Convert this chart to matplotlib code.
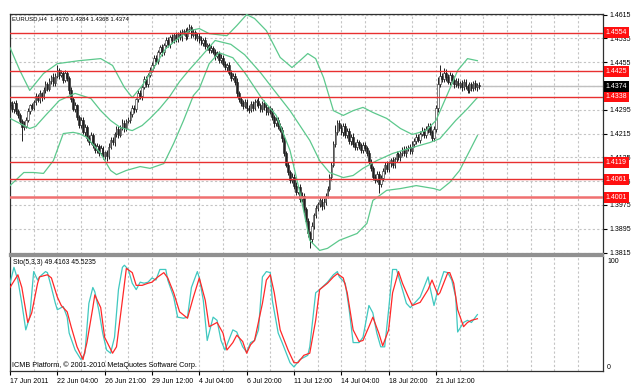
import matplotlib
matplotlib.use('Agg')
import matplotlib.pyplot as plt
import matplotlib.transforms as mtransforms
import numpy as np

# ---------------- data (EURUSD H4) ----------------
first_open = 1.4320
closes = [
    1.4312, 1.4296, 1.4318, 1.4290, 1.4276, 1.4258, 1.4236, 1.4242, 1.4262, 1.4290, 1.4310, 1.4302,
    1.4322, 1.4340, 1.4328, 1.4350, 1.4338, 1.4362, 1.4380, 1.4366, 1.4392, 1.4405, 1.4384, 1.4410,
    1.4428, 1.4412, 1.4420, 1.4396, 1.4418, 1.4402, 1.4360, 1.4330, 1.4298, 1.4310, 1.4270, 1.4245,
    1.4262, 1.4220, 1.4236, 1.4200, 1.4188, 1.4210, 1.4176, 1.4160, 1.4172, 1.4150, 1.4166, 1.4140,
    1.4152, 1.4138, 1.4170, 1.4195, 1.4186, 1.4214, 1.4230, 1.4210, 1.4236, 1.4250, 1.4232, 1.4258,
    1.4262, 1.4280, 1.4302, 1.4296, 1.4330, 1.4352, 1.4340, 1.4372, 1.4398, 1.4380, 1.4412, 1.4430,
    1.4446, 1.4470, 1.4458, 1.4490, 1.4505, 1.4488, 1.4512, 1.4530, 1.4515, 1.4540, 1.4528, 1.4546,
    1.4532, 1.4550, 1.4538, 1.4556, 1.4560, 1.4542, 1.4565, 1.4572, 1.4548, 1.4555, 1.4536, 1.4544,
    1.4530, 1.4520, 1.4528, 1.4508, 1.4512, 1.4495, 1.4502, 1.4490, 1.4476, 1.4485, 1.4462, 1.4470,
    1.4450, 1.4438, 1.4445, 1.4420, 1.4402, 1.4410, 1.4388, 1.4350, 1.4330, 1.4318, 1.4308, 1.4322,
    1.4300, 1.4295, 1.4315, 1.4302, 1.4320, 1.4325, 1.4310, 1.4298, 1.4318, 1.4305, 1.4286, 1.4300,
    1.4290, 1.4270, 1.4250, 1.4262, 1.4240, 1.4228, 1.4200, 1.4150, 1.4110, 1.4085, 1.4060, 1.4070,
    1.4040, 1.4020, 1.4035, 1.3995, 1.4005, 1.3960, 1.3920, 1.3880, 1.3860, 1.3905, 1.3940, 1.3965,
    1.3978, 1.3990, 1.3970, 1.3985, 1.4005, 1.4030, 1.4070, 1.4110, 1.4180, 1.4220, 1.4250, 1.4235,
    1.4220, 1.4240, 1.4210, 1.4225, 1.4190, 1.4205, 1.4180, 1.4170, 1.4188, 1.4175, 1.4160, 1.4178,
    1.4165, 1.4150, 1.4120, 1.4100, 1.4070, 1.4060, 1.4080, 1.4045, 1.4065, 1.4090, 1.4110, 1.4095,
    1.4115, 1.4125, 1.4110, 1.4130, 1.4145, 1.4135, 1.4150, 1.4160, 1.4148, 1.4165, 1.4170, 1.4155,
    1.4180, 1.4190, 1.4205, 1.4195, 1.4215, 1.4225, 1.4210, 1.4230, 1.4240, 1.4220, 1.4200, 1.4230,
    1.4300, 1.4380, 1.4410, 1.4398, 1.4420, 1.4405, 1.4390, 1.4412, 1.4395, 1.4380, 1.4392, 1.4378,
    1.4385, 1.4370, 1.4388, 1.4375, 1.4362, 1.4380, 1.4368, 1.4385, 1.4370, 1.4378, 1.4374,
]
# upper / lower shadows in pips
wick_up = [
    8, 12, 6, 10, 7, 9, 5, 14, 8, 10, 6, 9,
    7, 10, 8, 12, 6, 9, 11, 7, 10, 8, 12, 9,
    17, 8, 10, 6, 12, 9, 7, 10, 8, 12, 6, 9,
    10, 8, 12, 7, 9, 11, 6, 8, 10, 7, 9, 8,
    6, 9, 12, 8, 10, 7, 11, 9, 8, 13, 10, 7,
    9, 12, 8, 10, 6, 11, 9, 8, 12, 10, 7, 9,
    11, 8, 10, 7, 9, 12, 8, 10, 9, 7, 11, 8,
    10, 8, 12, 9, 7, 11, 9, 13, 8, 10, 7, 9,
    8, 12, 7, 10, 9, 6, 11, 8, 10, 7, 9, 12,
    8, 10, 7, 12, 9, 8, 10, 14, 9, 7, 11, 8,
    10, 12, 9, 8, 11, 7, 12, 9, 8, 10, 13, 9,
    8, 11, 9, 7, 10, 12, 8, 9, 6, 10, 8, 11,
    9, 12, 8, 10, 14, 9, 7, 10, 8, 12, 9, 11,
    8, 10, 7, 12, 9, 8, 10, 11, 9, 25, 12, 10,
    12, 9, 11, 8, 10, 9, 12, 8, 10, 7, 9, 8,
    10, 8, 9, 11, 7, 10, 8, 9, 11, 8, 10, 12,
    9, 8, 10, 7, 11, 9, 8, 10, 12, 9, 8, 10,
    9, 11, 8, 10, 9, 12, 8, 10, 9, 11, 8, 10,
    12, 25, 35, 10, 14, 12, 9, 11, 8, 12, 10, 9,
    8, 10, 9, 11, 8, 10, 9, 8, 10, 7, 10,
]
wick_dn = [
    9, 7, 11, 8, 10, 12, 46, 9, 8, 7, 10, 8,
    8, 10, 7, 9, 12, 8, 10, 7, 9, 11, 8, 10,
    9, 12, 8, 10, 7, 9, 12, 10, 8, 11, 9, 12,
    10, 8, 12, 9, 11, 8, 10, 12, 9, 11, 8, 10,
    12, 14, 9, 8, 10, 12, 9, 11, 8, 10, 12, 9,
    8, 10, 9, 12, 8, 10, 9, 11, 8, 10, 9, 8,
    9, 11, 8, 10, 9, 12, 8, 10, 9, 11, 8, 10,
    9, 8, 10, 12, 9, 11, 8, 10, 12, 9, 8, 10,
    10, 8, 12, 9, 11, 8, 10, 9, 12, 8, 10, 9,
    8, 10, 12, 9, 11, 8, 10, 12, 9, 11, 10, 8,
    9, 11, 8, 10, 9, 12, 8, 10, 9, 11, 8, 10,
    10, 9, 12, 8, 11, 9, 12, 10, 9, 11, 10, 12,
    10, 12, 9, 11, 10, 12, 10, 14, 30, 12, 10, 9,
    11, 10, 12, 9, 10, 8, 9, 10, 8, 9, 10, 12,
    10, 12, 9, 11, 10, 12, 9, 11, 10, 12, 9, 11,
    10, 12, 9, 11, 10, 12, 9, 30, 10, 9, 11, 10,
    9, 11, 10, 12, 9, 10, 11, 9, 10, 12, 9, 10,
    10, 9, 11, 10, 12, 9, 11, 10, 12, 9, 11, 10,
    10, 12, 9, 11, 10, 12, 9, 11, 10, 12, 9, 11,
    10, 12, 9, 11, 10, 12, 9, 11, 10, 12, 10,
]

# Bollinger bands (sampled along the bars)
bb_up_bar = [0, 5, 10, 17, 24, 35, 46, 52, 58, 62, 67, 73, 79, 87, 91, 96, 101, 110, 115, 120,
             124, 130, 137, 143, 147, 151, 155, 159, 164, 169, 174, 179, 184, 191, 198, 204, 211, 216, 222, 227,
             232, 237]
bb_up = [1.4504, 1.4427, 1.4360, 1.4417, 1.4450, 1.4460, 1.4467, 1.4444, 1.4370, 1.4336, 1.4376, 1.4437,
         1.4501, 1.4544, 1.4561, 1.4568, 1.4551, 1.4544, 1.4578, 1.4615, 1.4602, 1.4561, 1.4471, 1.4437,
         1.4460, 1.4484, 1.4467, 1.4403, 1.4292, 1.4276, 1.4292, 1.4303, 1.4286, 1.4266, 1.4232, 1.4212,
         1.4225, 1.4259, 1.4350, 1.4427, 1.4467, 1.4460]
bb_mid_bar = [0, 5, 10, 13, 18, 25, 33, 41, 46, 51, 56, 62, 67, 71, 76, 81, 86, 91, 96, 104,
              112, 119, 127, 134, 142, 147, 152, 157, 162, 169, 174, 179, 186, 194, 204, 213, 218, 226, 232, 237]
bb_mid = [1.4266, 1.4249, 1.4232, 1.4239, 1.4276, 1.4326, 1.4350, 1.4333, 1.4292, 1.4259, 1.4235, 1.4225,
          1.4242, 1.4266, 1.4300, 1.4340, 1.4390, 1.4430, 1.4467, 1.4528, 1.4515, 1.4480, 1.4420, 1.4360,
          1.4292, 1.4242, 1.4192, 1.4124, 1.4084, 1.4067, 1.4074, 1.4098, 1.4124, 1.4148, 1.4168, 1.4185,
          1.4198, 1.4259, 1.4299, 1.4336]
bb_lo_bar = [0, 7, 12, 17, 22, 27, 32, 35, 39, 46, 51, 54, 59, 66, 71, 78, 83, 88, 93, 96,
             101, 106, 113, 119, 123, 128, 135, 142, 147, 152, 157, 161, 167, 176, 181, 184, 191, 198, 206, 215,
             218, 223, 228, 237]
bb_lo = [1.4040, 1.4084, 1.4084, 1.4081, 1.4124, 1.4215, 1.4219, 1.4215, 1.4202, 1.4148, 1.4091, 1.4077,
         1.4091, 1.4104, 1.4098, 1.4114, 1.4182, 1.4259, 1.4343, 1.4366, 1.4450, 1.4487, 1.4470, 1.4420,
         1.4380, 1.4330, 1.4276, 1.4158, 1.4017, 1.3856, 1.3822, 1.3829, 1.3856, 1.3879, 1.3913, 1.3990,
         1.4024, 1.4030, 1.4040, 1.4030, 1.4024, 1.4051, 1.4091, 1.4208]

# Stochastic(5,3,3): %K main and %D signal
sto_k_bar = [0, 2, 4, 6, 8, 10, 12, 14, 15, 18, 19, 21, 23, 24, 27, 29, 30, 33, 36, 38,
             40, 42, 43, 45, 47, 49, 51, 53, 55, 57, 58, 60, 62, 64, 66, 68, 70, 72, 74, 76,
             79, 80, 83, 85, 88, 90, 92, 95, 96, 98, 100, 103, 105, 107, 109, 113, 115, 118, 120, 122,
             124, 126, 128, 130, 132, 133, 136, 138, 142, 144, 147, 151, 152, 155, 157, 161, 164, 166, 167, 170,
             172, 174, 177, 179, 182, 184, 186, 188, 190, 192, 194, 196, 199, 201, 203, 205, 208, 212, 213, 215,
             217, 220, 222, 224, 226, 227, 230, 232, 234, 237]
sto_k = [79, 94, 82, 60, 35, 47, 90, 82, 85, 90, 89, 75, 60, 54, 57, 47, 32, 16, 7, 13,
         60, 75, 71, 54, 32, 16, 13, 28, 73, 94, 96, 92, 79, 73, 80, 79, 80, 84, 82, 92,
         92, 82, 66, 47, 46, 47, 75, 90, 84, 63, 25, 47, 44, 25, 16, 35, 33, 19, 14, 23,
         25, 35, 85, 90, 89, 63, 32, 23, 4, 0, 7, 11, 19, 70, 73, 80, 87, 90, 85, 79,
         54, 23, 23, 28, 58, 51, 32, 19, 19, 54, 92, 92, 73, 60, 56, 60, 66, 85, 75, 58,
         73, 90, 89, 82, 66, 33, 42, 44, 42, 49.4163]
sto_d_bar = [0, 4, 6, 9, 11, 14, 15, 19, 21, 24, 26, 29, 31, 34, 37, 39, 42, 43, 46, 48,
             52, 54, 57, 59, 62, 64, 67, 70, 72, 75, 78, 80, 83, 86, 90, 93, 96, 99, 101, 105,
             108, 110, 113, 115, 118, 120, 122, 124, 128, 130, 132, 134, 137, 141, 144, 146, 149, 152, 155, 157,
             161, 164, 166, 169, 171, 174, 177, 179, 182, 184, 187, 189, 192, 194, 197, 199, 202, 204, 208, 212,
             214, 217, 218, 222, 223, 225, 227, 230, 232, 234, 237]
sto_d = [75, 87, 75, 42, 51, 79, 85, 87, 84, 66, 58, 52, 38, 19, 7, 23, 56, 68, 56, 28,
         13, 19, 63, 93, 89, 77, 77, 79, 80, 85, 89, 84, 70, 52, 46, 66, 84, 63, 38, 42,
         32, 16, 23, 30, 24, 13, 21, 25, 60, 82, 87, 70, 35, 16, 4, 4, 11, 13, 44, 73,
         79, 85, 88, 84, 70, 35, 24, 25, 38, 47, 32, 20, 35, 70, 90, 79, 66, 58, 61, 73,
         82, 68, 70, 89, 89, 79, 54, 38, 42, 44, 45.5235]

time_ticks = [0, 24, 48, 72, 96, 120, 144, 168, 192, 216]
time_labels = ['17 Jun 2011', '22 Jun 04:00', '26 Jun 21:00', '29 Jun 12:00', '4 Jul 04:00',
               '6 Jul 20:00', '11 Jul 12:00', '14 Jul 04:00', '18 Jul 20:00', '21 Jul 12:00']
price_ticks = [1.3815, 1.3895, 1.3975, 1.4055, 1.4135, 1.4215, 1.4295, 1.4375, 1.4455, 1.4535, 1.4615]
levels = [1.4554, 1.4425, 1.4338, 1.4119, 1.4061, 1.4001]
bid = 1.4374
title = 'EURUSD,H4  1.4370 1.4384 1.4368 1.4374'
sto_title = 'Sto(5,3,3) 49.4163 45.5235'
copyright_txt = 'ICMB Platform, \u00a9 2001-2010 MetaQuotes Software Corp.'

# ---------------- figure ----------------
plt.rcParams['font.family'] = ['Liberation Sans', 'DejaVu Sans']
FS = 5.0
W, H = 639, 389
fig = plt.figure(figsize=(W / 100, H / 100), dpi=100)
fig.patch.set_facecolor('white')


def box(x0, y0, x1, y1):
    return [x0 / W, 1 - y1 / H, (x1 - x0) / W, (y1 - y0) / H]


ax = fig.add_axes(box(10, 14, 603, 254))
ax2 = fig.add_axes(box(10, 256, 603, 371))

xmax = 300.7
grid_kw = dict(color='#c4c4c4', lw=0.8, ls=(0, (2, 2)), zorder=0)
for a in (ax, ax2):
    a.set_xlim(0, xmax)
    for gx in range(12, int(xmax), 12):
        a.axvline(gx, **grid_kw)
    for s in a.spines.values():
        s.set_color('#303030')
        s.set_linewidth(0.9)
ax.spines['bottom'].set_color('#909090')
ax.spines['bottom'].set_linewidth(1.6)
ax2.spines['top'].set_color('#909090')
ax2.spines['top'].set_linewidth(1.6)

ax.set_ylim(1.3810, 1.4617)
ax2.set_ylim(-3.8, 104.7)
for p in price_ticks:
    ax.axhline(p, **grid_kw)

# candles
c = np.array(closes)
o = np.r_[first_open, c[:-1]]
hi = np.maximum(o, c) + np.array(wick_up) * 0.0001
lo = np.minimum(o, c) - np.array(wick_dn) * 0.0001
idx = np.arange(len(c))
ax.axhline(bid, color='#c0c0c0', lw=1.0, zorder=1)
ax.vlines(idx, lo, hi, color='#202020', lw=0.7, zorder=3)
body = np.maximum(np.abs(c - o), 0.00008)
face = np.where(c >= o, 'white', '#202020')
ax.bar(idx, body, bottom=np.minimum(o, c), width=0.8, color=face,
       edgecolor='#202020', linewidth=0.4, zorder=4)

band_col = '#5cc88c'
ax.plot(bb_up_bar, bb_up, color=band_col, lw=0.9, zorder=5)
ax.plot(bb_mid_bar, bb_mid, color=band_col, lw=0.9, zorder=5)
ax.plot(bb_lo_bar, bb_lo, color=band_col, lw=0.9, zorder=5)

for lv in levels:
    if lv == 1.4001:
        ax.axhline(lv, color='#f07070', lw=1.8, zorder=6)
    else:
        ax.axhline(lv, color='#e83030', lw=1.0, zorder=6)

# right price scale (1.4375 sits fully under the bid box, so only its tick is kept)
ax.yaxis.tick_right()
ax.set_yticks(price_ticks)
ax.set_yticklabels(['' if p == 1.4375 else '%.4f' % p for p in price_ticks])
ax.tick_params(axis='y', direction='out', length=3, width=0.8, pad=2, labelsize=FS, colors='black')
ax.tick_params(axis='x', length=0, labelbottom=False)

trans = mtransforms.blended_transform_factory(ax.transAxes, ax.transData)
for lv in levels:
    ax.text(1.0045, lv, '%.4f' % lv, transform=trans, ha='left', va='center', fontsize=FS,
            color='white', zorder=10,
            bbox=dict(boxstyle='square,pad=0.28', fc='#ff1010', ec='none'))
ax.text(1.0045, bid, '%.4f' % bid, transform=trans, ha='left', va='center', fontsize=FS,
        color='white', zorder=10, bbox=dict(boxstyle='square,pad=0.28', fc='black', ec='none'))

# stochastic
ax2.plot(sto_k_bar, sto_k, color='#40c8c0', lw=0.9, zorder=3)
ax2.plot(sto_d_bar, sto_d, color='#ff2828', lw=0.9, zorder=4)
ax2.yaxis.tick_right()
ax2.set_yticks([0, 100])
ax2.set_yticklabels(['0', '100'])
ax2.tick_params(axis='y', length=0, pad=3, labelsize=FS)
ax2.set_xticks(time_ticks)
ax2.set_xticklabels(time_labels)
ax2.tick_params(axis='x', direction='out', length=3, width=0.8, pad=2, labelsize=FS)
for t in ax2.get_xticklabels():
    t.set_ha('left')

fig.text(12 / W, 1 - 19 / H, title, fontsize=4.3, va='center', ha='left')
fig.text(13 / W, 1 - 262 / H, sto_title, fontsize=4.9, va='center', ha='left')
fig.text(12 / W, 1 - 365 / H, copyright_txt, fontsize=5.2, va='center', ha='left')

fig.savefig('out.png', dpi=100, facecolor='white')
